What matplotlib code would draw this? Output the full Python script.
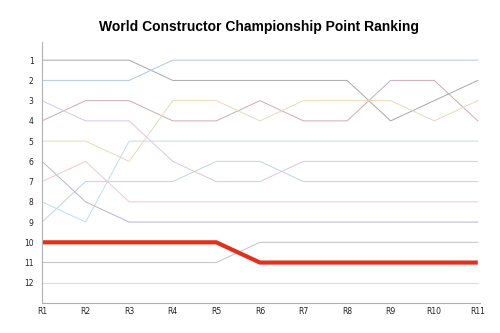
import matplotlib
matplotlib.use("Agg")
import matplotlib.pyplot as plt

rounds = ["R1", "R2", "R3", "R4", "R5", "R6", "R7", "R8", "R9", "R10", "R11"]
rank_labels = [str(i) for i in range(1, 13)]

# ranking of each constructor per round
team_a = [1, 1, 1, 2, 2, 2, 2, 2, 4, 3, 2]
team_b = [2, 2, 2, 1, 1, 1, 1, 1, 1, 1, 1]
team_c = [4, 3, 3, 4, 4, 3, 4, 4, 2, 2, 4]
team_d = [5, 5, 6, 3, 3, 4, 3, 3, 3, 4, 3]
team_e = [3, 4, 4, 6, 7, 7, 6, 6, 6, 6, 6]
team_f = [9, 7, 7, 7, 6, 6, 7, 7, 7, 7, 7]
team_g = [8, 9, 5, 5, 5, 5, 5, 5, 5, 5, 5]
team_h = [6, 8, 9, 9, 9, 9, 9, 9, 9, 9, 9]
team_i = [7, 6, 8, 8, 8, 8, 8, 8, 8, 8, 8]
team_j = [10, 10, 10, 10, 10, 11, 11, 11, 11, 11, 11]
team_k = [11, 11, 11, 11, 11, 10, 10, 10, 10, 10, 10]
team_l = [12, 12, 12, 12, 12, 12, 12, 12, 12, 12, 12]

teams = [team_a, team_b, team_c, team_d, team_e, team_f,
         team_g, team_h, team_i, team_k, team_l]
colors = ["#a8a8a8", "#b0c9e3", "#cfaab2", "#e6dcb4", "#e0c4e0", "#c0d5e7",
          "#bbdfee", "#bab3d0", "#f3c9c9", "#c2c2c2", "#d8d8d8"]

fig = plt.figure(figsize=(5, 3.33), dpi=100)
ax = fig.add_axes([0.084, 0.09, 0.876, 0.784])

x = list(range(len(rounds)))
for ranks, c in zip(teams, colors):
    ax.plot(x, ranks, color=c, lw=0.7)
ax.plot(x, team_j, color="#e2301a", lw=3.0, solid_capstyle="butt")

ax.set_ylim(13, 0.1)
ax.set_xlim(0, 10.05)
ax.set_yticks(range(1, 13))
ax.set_yticklabels(rank_labels)
ax.set_xticks(x)
ax.set_xticklabels(rounds)
ax.tick_params(length=0, labelsize=5.5, colors="#222222")
ax.tick_params(axis="y", pad=6)
ax.tick_params(axis="x", pad=3)
for s in ["top", "right"]:
    ax.spines[s].set_visible(False)
for s in ["left", "bottom"]:
    ax.spines[s].set_color("#b0b0b0")
    ax.spines[s].set_linewidth(0.8)

fig.suptitle("World Constructor Championship Point Ranking",
             fontsize=10, fontweight="bold", y=0.94, x=0.518,
             family="Liberation Sans")

fig.savefig("out.png", dpi=100)
